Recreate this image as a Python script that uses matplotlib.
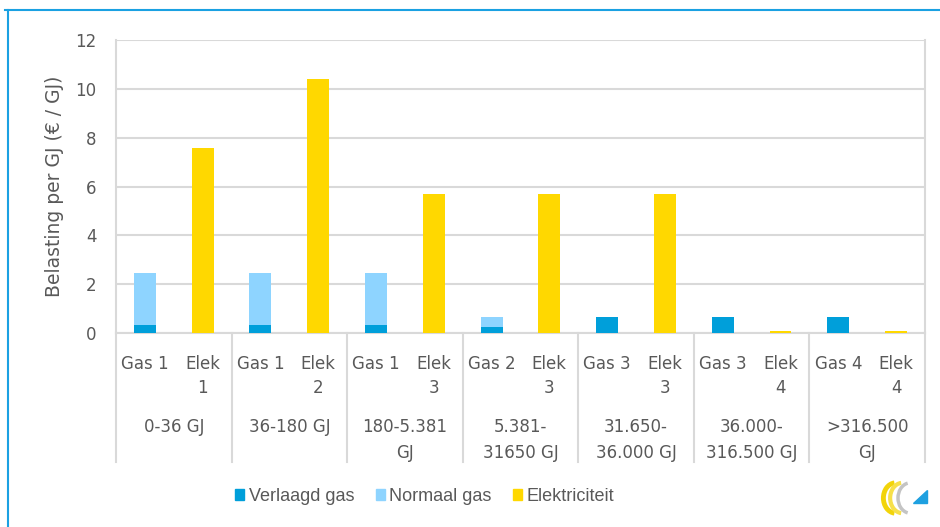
import matplotlib.pyplot as plt
from matplotlib.lines import Line2D
from matplotlib.patches import Patch, Arc, Polygon
import matplotlib.transforms as mtransforms

groups = ['0-36 GJ', '36-180 GJ', '180-5.381\nGJ', '5.381-\n31650 GJ',
          '31.650-\n36.000 GJ', '36.000-\n316.500 GJ', '>316.500\nGJ']
gas_labels = ['Gas 1', 'Gas 1', 'Gas 1', 'Gas 2', 'Gas 3', 'Gas 3', 'Gas 4']
elek_labels = ['Elek\n1', 'Elek\n2', 'Elek\n3', 'Elek\n3', 'Elek\n3', 'Elek\n4', 'Elek\n4']
verlaagd = [0.32, 0.32, 0.32, 0.23, 0.66, 0.66, 0.66]
normaal = [2.13, 2.13, 2.13, 0.43, 0, 0, 0]
elektriciteit = [7.58, 10.4, 5.7, 5.7, 5.7, 0.08, 0.08]

c_verl = '#009fda'
c_norm = '#8ed4ff'
c_elek = '#ffd800'
grey = '#595959'
gridc = '#d9d9d9'

plt.rcParams['font.family'] = ['DejaVu Sans']

fig = plt.figure(figsize=(9.4, 5.27), dpi=100)
ax = fig.add_axes([0.1234, 0.368, 0.8606, 0.556])

n = len(groups)
gas_x = [2 * i for i in range(n)]
elek_x = [2 * i + 1 for i in range(n)]
w = 0.38
ax.bar(gas_x, verlaagd, w, color=c_verl, zorder=3)
ax.bar(gas_x, normaal, w, bottom=verlaagd, color=c_norm, zorder=3)
ax.bar(elek_x, elektriciteit, w, color=c_elek, zorder=3)

ax.set_xlim(-0.5, 2 * n - 0.5)
ax.set_ylim(0, 12)
ax.set_yticks(range(0, 13, 2))
ax.yaxis.grid(True, color=gridc, linewidth=1.5, zorder=0)
ax.tick_params(axis='y', length=0, labelsize=12, labelcolor=grey, pad=14)

ticks = []
labels = []
for i in range(n):
    ticks += [gas_x[i], elek_x[i]]
    labels += [gas_labels[i], elek_labels[i]]
ax.set_xticks(ticks)
ax.set_xticklabels(labels, va='top', linespacing=1.4)
ax.tick_params(axis='x', length=0, labelsize=12, labelcolor=grey, pad=16)

for s in ['top', 'right', 'left']:
    ax.spines[s].set_visible(False)
ax.spines['bottom'].set_color(gridc)
ax.spines['bottom'].set_linewidth(1.5)

trans = mtransforms.blended_transform_factory(ax.transData, ax.transAxes)
for i in range(n + 1):
    xb = 2 * i - 0.5
    ax.add_line(Line2D([xb, xb], [-0.44, 0], transform=trans,
                       color=gridc, lw=1.5, clip_on=False))
for xb in [-0.5, 2 * n - 0.5]:
    ax.add_line(Line2D([xb, xb], [0, 1], transform=trans, color=gridc, lw=1.5, clip_on=False))
for i, g in enumerate(groups):
    ax.text(2 * i + 0.5, -0.29, g, transform=trans, ha='center', va='top',
            fontsize=12, color=grey, linespacing=1.55)

ax.set_ylabel('Belasting per GJ (€ / GJ)', fontsize=13.5, color=grey, labelpad=8)

handles = [Patch(color=c_verl), Patch(color=c_norm), Patch(color=c_elek)]
fig.legend(handles, ['Verlaagd gas', 'Normaal gas', 'Elektriciteit'],
           loc='center', bbox_to_anchor=(0.452, 0.058), ncol=3, frameon=False,
           prop={'family': 'Liberation Sans', 'size': 13},
           handlelength=0.5, handleheight=0.5, handletextpad=0.25,
           columnspacing=1.2, labelcolor=grey)

# small logo, bottom right
lax = fig.add_axes([0.935, 0.02, 0.055, 0.07])
lax.set_xlim(0, 4.6)
lax.set_ylim(0, 3.4)
lax.axis('off')
lax.add_patch(Arc((1.5, 1.7), 2.2, 2.8, theta1=95, theta2=265, color='#f2d40a', lw=3.5))
lax.add_patch(Arc((2.1, 1.7), 2.2, 2.8, theta1=95, theta2=265, color='#f7e04a', lw=3))
lax.add_patch(Arc((2.8, 1.7), 2.2, 2.8, theta1=100, theta2=260, color='#c4c4c4', lw=2.5))
lax.add_patch(Polygon([[3.0, 1.2], [4.3, 1.2], [4.3, 2.4]], color='#1ea0e0'))

fig.add_artist(Line2D([0.005, 1.0], [0.981, 0.981], color='#1ba1e2', lw=1.5))
fig.add_artist(Line2D([0.0085, 0.0085], [0.0, 0.981], color='#1ba1e2', lw=1.5))

fig.savefig('out.png', dpi=100)
